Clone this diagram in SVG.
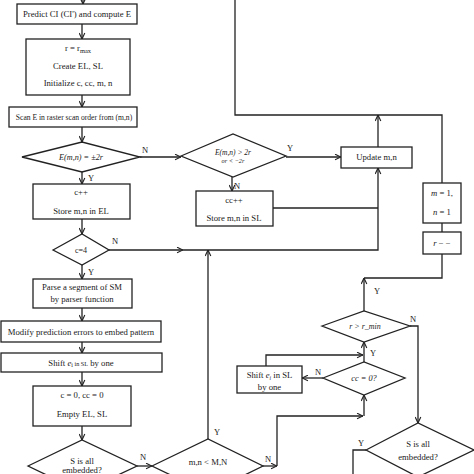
<svg xmlns="http://www.w3.org/2000/svg" width="474" height="474" viewBox="0 0 474 474">
<defs>
<marker id="ar" viewBox="0 0 10 10" refX="9.5" refY="5" markerWidth="7" markerHeight="7" markerUnits="userSpaceOnUse" orient="auto">
<path d="M1,1 L9.5,5 L1,9" fill="none" stroke="#222" stroke-width="1.6"/>
</marker>
</defs>
<style>
.s{fill:#fff;stroke:#222;stroke-width:1.3}
.c{fill:none;stroke:#222;stroke-width:1.3}
.a{marker-end:url(#ar)}
text{font-family:"Liberation Serif","Times New Roman",serif;fill:#1a1a1a;font-size:8.7px;text-anchor:middle}
.i{font-style:italic;font-size:7.5px}
.l{font-size:8.5px;text-anchor:start}
</style>
<rect width="474" height="474" fill="#fff"/>

<g id="connectors">
<line class="c a" x1="83" y1="-2" x2="83" y2="4"/>
<line class="c a" x1="82" y1="24" x2="82" y2="39"/>
<line class="c a" x1="82" y1="95" x2="82" y2="107"/>
<line class="c a" x1="82" y1="127" x2="82" y2="142"/>
<line class="c a" x1="140" y1="157" x2="181" y2="157"/>
<line class="c a" x1="82" y1="172" x2="82" y2="184"/>
<line class="c a" x1="82" y1="219" x2="82" y2="234"/>
<line class="c a" x1="109" y1="250" x2="183" y2="250"/>
<polyline class="c a" points="183,250 378,250 378,168"/>
<line class="c a" x1="82" y1="265" x2="82" y2="279"/>
<line class="c a" x1="82" y1="308" x2="82" y2="321"/>
<line class="c a" x1="82" y1="342" x2="82" y2="353"/>
<line class="c a" x1="82" y1="372" x2="82" y2="386"/>
<line class="c a" x1="82" y1="426" x2="82" y2="440"/>
<line class="c a" x1="137" y1="466" x2="152" y2="466"/>
<line class="c a" x1="208" y1="439" x2="208" y2="250"/>
<line class="c a" x1="263" y1="466" x2="277" y2="466"/>
<polyline class="c a" points="277,466 277,416 363,416"/>
<line class="c a" x1="364" y1="416" x2="364" y2="395"/>
<line class="c a" x1="286" y1="157" x2="341" y2="157"/>
<line class="c a" x1="232" y1="177" x2="232" y2="191"/>
<line class="c" x1="273" y1="208" x2="378" y2="208"/>
<line class="c a" x1="378" y1="147" x2="378" y2="115"/>
<polyline class="c" points="235,-2 235,115 442,115 442,183"/>
<line class="c" x1="442" y1="223" x2="442" y2="232"/>
<polyline class="c" points="442,254 442,278 364,278"/>
<line class="c a" x1="364" y1="311" x2="364" y2="278"/>
<polyline class="c a" points="410,326 418,326 418,423"/>
<line class="c a" x1="364" y1="362" x2="364" y2="342"/>
<line class="c a" x1="323" y1="378" x2="302" y2="378"/>
<polyline class="c a" points="266,366 266,355 363,355"/>
<polyline class="c" points="366,450 353,450 353,476"/>
<text class="l" x="142" y="153">N</text>
<text class="l" x="88" y="181">Y</text>
<text class="l" x="112" y="244">N</text>
<text class="l" x="88" y="275">Y</text>
<text class="l" x="140" y="460">N</text>
<text class="l" x="214" y="435">Y</text>
<text class="l" x="265" y="462">N</text>
<text class="l" x="287" y="151">Y</text>
<text class="l" x="234" y="189">N</text>
<text class="l" x="374" y="294">Y</text>
<text class="l" x="410" y="322">N</text>
<text class="l" x="370" y="356">Y</text>
<text class="l" x="315" y="375">N</text>
<text class="l" x="358" y="446">Y</text>
</g>

<g id="predict">
<rect class="s" x="17" y="4" width="120" height="20"/>
<text x="77" y="17">Predict CI (CI') and compute E</text>
</g>
<g id="init">
<rect class="s" x="26" y="39" width="104" height="56"/>
<text x="78" y="51">r =  r<tspan font-size="6.5" dy="2">max</tspan></text>
<text x="78" y="69">Create EL, SL</text>
<text x="78" y="86">Initialize c, cc, m, n</text>
</g>
<g id="scan">
<rect class="s" x="9" y="107" width="128" height="20"/>
<text x="74" y="120" style="font-size:7.6px">Scan E in raster scan order from (m,n)</text>
</g>
<g id="d1">
<polygon class="s" points="22,157 82,142 140,157 82,172"/>
<text class="i" x="81" y="160" style="font-size:8.2px">E(m,n) = ±2r</text>
</g>
<g id="storeEL">
<rect class="s" x="33" y="184" width="97" height="35"/>
<text x="81" y="195">c++</text>
<text x="81" y="214">Store m,n in EL</text>
</g>
<g id="c4">
<polygon class="s" points="53,250 82,234 109,250 82,265"/>
<text x="81" y="253" style="font-size:8px">c=4</text>
</g>
<g id="parse">
<rect class="s" x="33" y="279" width="99" height="29"/>
<text x="82" y="290">Parse a segment of SM</text>
<text x="82" y="302">by parser function</text>
</g>
<g id="modify">
<rect class="s" x="1" y="321" width="160" height="21"/>
<text x="81" y="334.5">Modify prediction errors to embed pattern</text>
</g>
<g id="shift1">
<rect class="s" x="1" y="353" width="161" height="19"/>
<text x="81" y="365.5">Shift <tspan font-style="italic">e</tspan><tspan font-size="6" dy="1.5">i</tspan><tspan dy="-1.5" font-size="6.2"> in SL</tspan> by one</text>
</g>
<g id="reset">
<rect class="s" x="33" y="386" width="98" height="40"/>
<text x="82" y="398">c = 0, cc = 0</text>
<text x="82" y="417">Empty EL, SL</text>
</g>
<g id="s1">
<polygon class="s" points="28,466 82,440 137,466 82,492"/>
<text x="82" y="464">S is all</text>
<text x="82" y="473">embedded?</text>
</g>
<g id="mn">
<polygon class="s" points="152,466 208,439 263,466 208,493"/>
<text x="208" y="465">m,n &lt; M,N</text>
</g>
<g id="d2">
<polygon class="s" points="181,156 233,134 286,156 233,177"/>
<text class="i" x="233" y="155">E(m,n) &gt; 2r</text>
<text class="i" x="233" y="162.5" style="font-size:6.3px">or &lt; −2r</text>
</g>
<g id="storeSL">
<rect class="s" x="196" y="191" width="77" height="35"/>
<text x="234" y="203">cc++</text>
<text x="234" y="221">Store m,n in SL</text>
</g>
<g id="update">
<rect class="s" x="341" y="147" width="71" height="21"/>
<text x="376.5" y="160">Update m,n</text>
</g>
<g id="mn1">
<rect class="s" x="423" y="183" width="38" height="40"/>
<text x="442" y="196"><tspan font-style="italic">m</tspan> = 1,</text>
<text x="442" y="215"><tspan font-style="italic">n</tspan> = 1</text>
</g>
<g id="rdec">
<rect class="s" x="423" y="232" width="38" height="22"/>
<text x="442" y="246"><tspan font-style="italic">r</tspan> − −</text>
</g>
<g id="rmin">
<polygon class="s" points="322,326 364,311 410,326 364,342"/>
<text class="i" x="365" y="329" style="font-size:8px">r &gt; r_min</text>
</g>
<g id="cc0">
<polygon class="s" points="323,378 364,362 405,378 364,395"/>
<text class="i" x="364" y="381" style="font-size:8.3px">cc = 0?</text>
</g>
<g id="shift2">
<rect class="s" x="237" y="366" width="65" height="27"/>
<text x="269.5" y="378">Shift <tspan font-style="italic">e</tspan><tspan font-size="5.5" dy="1.5" font-style="italic">i</tspan><tspan dy="-1.5"> in SL</tspan></text>
<text x="269.5" y="390">by one</text>
</g>
<g id="s2">
<polygon class="s" points="366,450 418,423 474,450 418,477"/>
<text x="418" y="447">S is all</text>
<text x="418" y="460">embedded?</text>
</g>
</svg>
